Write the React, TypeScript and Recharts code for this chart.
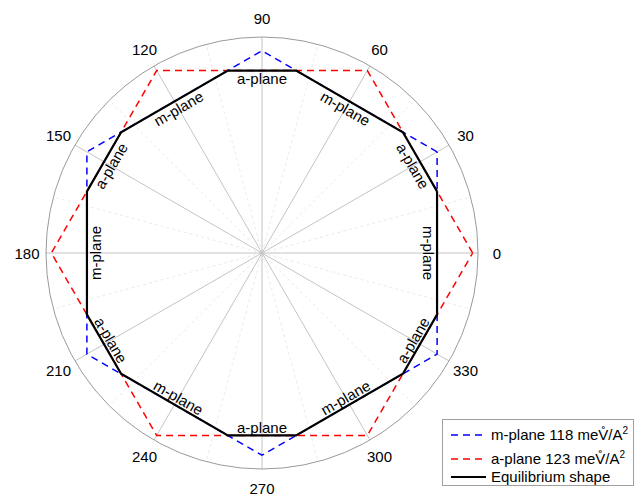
import React from 'react';
import {
  RadarChart,
  PolarGrid,
  PolarAngleAxis,
  PolarRadiusAxis,
  Radar,
  ScatterChart,
  Scatter,
  XAxis,
  YAxis,
} from 'recharts';

// angle labels (deg) and spokes
const angleTicks = [0, 30, 60, 90, 120, 150, 180, 210, 240, 270, 300, 330];
const minorSpokes = [15, 45, 75, 105, 135, 165, 195, 225, 255, 285, 315, 345];
const rMax = 145.6;

// m-plane Wulff hexagon, vertices (angle deg, radius)
const mPlaneAngle = [30, 90, 150, 210, 270, 330, 30];
const mPlaneRadius = [136.3, 136.3, 136.3, 136.3, 136.3, 136.3, 136.3];

// a-plane Wulff hexagon
const aPlaneAngle = [0, 60, 120, 180, 240, 300, 360];
const aPlaneRadius = [142, 142, 142, 142, 142, 142, 142];

// equilibrium shape (inner envelope)
const eqAngle = [19.4, 40.6, 79.4, 100.6, 139.4, 160.6, 199.4, 220.6, 259.4, 280.6, 319.4, 340.6, 19.4];
const eqRadius = [125.1, 125.1, 125.1, 125.1, 125.1, 125.1, 125.1, 125.1, 125.1, 125.1, 125.1, 125.1, 125.1];

// facet labels
const facetAngle = [90, 60, 30, 0, 330, 300, 270, 240, 210, 180, 150, 120];
const facetName = ['a-plane', 'm-plane', 'a-plane', 'm-plane', 'a-plane', 'm-plane', 'a-plane', 'm-plane', 'a-plane', 'm-plane', 'a-plane', 'm-plane'];
const facetRadius = [117.5, 112.5, 117.5, 112.5, 117.5, 112.5, 117.5, 112.5, 117.5, 112.5, 117.5, 112.5];

const legendNames = ['m-plane 118 meV\u030A/A', 'a-plane 123 meV\u030A/A', 'Equilibrium shape'];
const legendSup = ['2', '2', ''];

const FONT = '"Liberation Sans", Arial, Helvetica, sans-serif';
const W = 634;
const H = 499;
const CX = 262;
const CY = 253;
const R = 216;

const toXY = (angles: number[], radii: number[]) =>
  angles.map((a, i) => ({
    x: radii[i] * Math.cos((a * Math.PI) / 180),
    y: radii[i] * Math.sin((a * Math.PI) / 180),
  }));

const mPoints = toXY(mPlaneAngle, mPlaneRadius);
const aPoints = toXY(aPlaneAngle, aPlaneRadius);
const eqPoints = toXY(eqAngle, eqRadius);
const labelPoints = toXY(facetAngle, facetRadius).map((p, i) => {
  let rot = (((90 - facetAngle[i]) % 360) + 360) % 360;
  if (rot > 90 && rot < 270) rot -= 180;
  else if (rot >= 270) rot -= 360;
  return { ...p, name: facetName[i], rot };
});

const angleData = angleTicks.map((a) => ({ angle: String(a), value: 0 }));

const AngleTick = (props: any) => {
  const { x, y, payload } = props;
  return (
    <text x={x} y={y} textAnchor="middle" dominantBaseline="central" fontSize={15} fontFamily={FONT} fill="#000">
      {payload.value}
    </text>
  );
};

const FacetLabel = (props: any) => {
  const { cx, cy, payload } = props;
  return (
    <text
      x={cx}
      y={cy}
      textAnchor="middle"
      dominantBaseline="central"
      fontSize={15}
      fontFamily={FONT}
      fill="#000"
      transform={`rotate(${payload.rot}, ${cx}, ${cy})`}
    >
      {payload.name}
    </text>
  );
};

const legendStyles = [
  { stroke: '#0000ff', width: 1.5, dash: '7 5' },
  { stroke: '#ff0000', width: 1.5, dash: '7 5' },
  { stroke: '#000000', width: 2.2, dash: undefined },
];
const legendRowY = [15, 38.5, 56.5];

export default function App() {
  return (
    <div style={{ position: 'absolute', left: 0, top: 0, width: W, height: H, background: '#fff' }}>
      <div style={{ position: 'absolute', left: 0, top: 0 }}>
        <RadarChart
          width={W}
          height={H}
          data={angleData}
          cx={CX}
          cy={CY}
          outerRadius={R}
          startAngle={30}
          endAngle={390}
          margin={{ top: 0, right: 0, bottom: 0, left: 0 }}
        >
          <PolarGrid gridType="circle" polarAngles={minorSpokes} polarRadius={[]} stroke="#ebebeb" strokeDasharray="3 3" />
          <PolarGrid gridType="circle" polarAngles={angleTicks} polarRadius={[]} stroke="#c4c4c4" />
          <PolarGrid gridType="circle" radialLines={false} polarAngles={angleTicks} polarRadius={[R]} stroke="#9a9a9a" />
          <PolarAngleAxis dataKey="angle" tick={(p: any) => <AngleTick {...p} />} tickSize={19} tickLine={false} axisLine={false} />
          <PolarRadiusAxis domain={[0, rMax]} tick={false} axisLine={false} />
          <Radar dataKey="value" stroke="none" fill="none" dot={false} isAnimationActive={false} />
        </RadarChart>
      </div>
      <div style={{ position: 'absolute', left: 0, top: 0 }}>
        <ScatterChart
          width={W}
          height={H}
          margin={{ top: CY - R, right: W - CX - R, bottom: H - CY - R, left: CX - R }}
        >
          <XAxis type="number" dataKey="x" domain={[-rMax, rMax]} ticks={[-rMax, 0, rMax]} allowDataOverflow hide />
          <YAxis type="number" dataKey="y" domain={[-rMax, rMax]} ticks={[-rMax, 0, rMax]} allowDataOverflow hide />
          <Scatter
            data={aPoints}
            line={{ stroke: '#ff0000', strokeWidth: 1.5, strokeDasharray: '7 5' }}
            lineType="joint"
            shape={() => <g />}
            isAnimationActive={false}
          />
          <Scatter
            data={mPoints}
            line={{ stroke: '#0000ff', strokeWidth: 1.5, strokeDasharray: '7 5' }}
            lineType="joint"
            shape={() => <g />}
            isAnimationActive={false}
          />
          <Scatter
            data={eqPoints}
            line={{ stroke: '#000000', strokeWidth: 2.2 }}
            lineType="joint"
            shape={() => <g />}
            isAnimationActive={false}
          />
          <Scatter data={labelPoints} shape={(p: any) => <FacetLabel {...p} />} isAnimationActive={false} />
        </ScatterChart>
      </div>
      <div
        style={{
          position: 'absolute',
          left: 442,
          top: 419,
          width: 190,
          height: 65,
          border: '1px solid #a0a0a0',
          background: '#fff',
          fontFamily: FONT,
          fontSize: 15,
          color: '#000',
        }}
      >
        {legendNames.map((name, i) => (
          <div key={name} style={{ position: 'absolute', left: 0, top: legendRowY[i] - 10, height: 20, width: 190 }}>
            <svg width={45} height={20} style={{ position: 'absolute', left: 0, top: 0 }}>
              <line
                x1={8}
                x2={43}
                y1={10}
                y2={10}
                stroke={legendStyles[i].stroke}
                strokeWidth={legendStyles[i].width}
                strokeDasharray={legendStyles[i].dash}
              />
            </svg>
            <span style={{ position: 'absolute', left: 48, top: 0, lineHeight: '20px', whiteSpace: 'nowrap' }}>
              {name}
              {legendSup[i] && <sup style={{ fontSize: 10, verticalAlign: 'top', lineHeight: '12px' }}>{legendSup[i]}</sup>}
            </span>
          </div>
        ))}
      </div>
    </div>
  );
}
